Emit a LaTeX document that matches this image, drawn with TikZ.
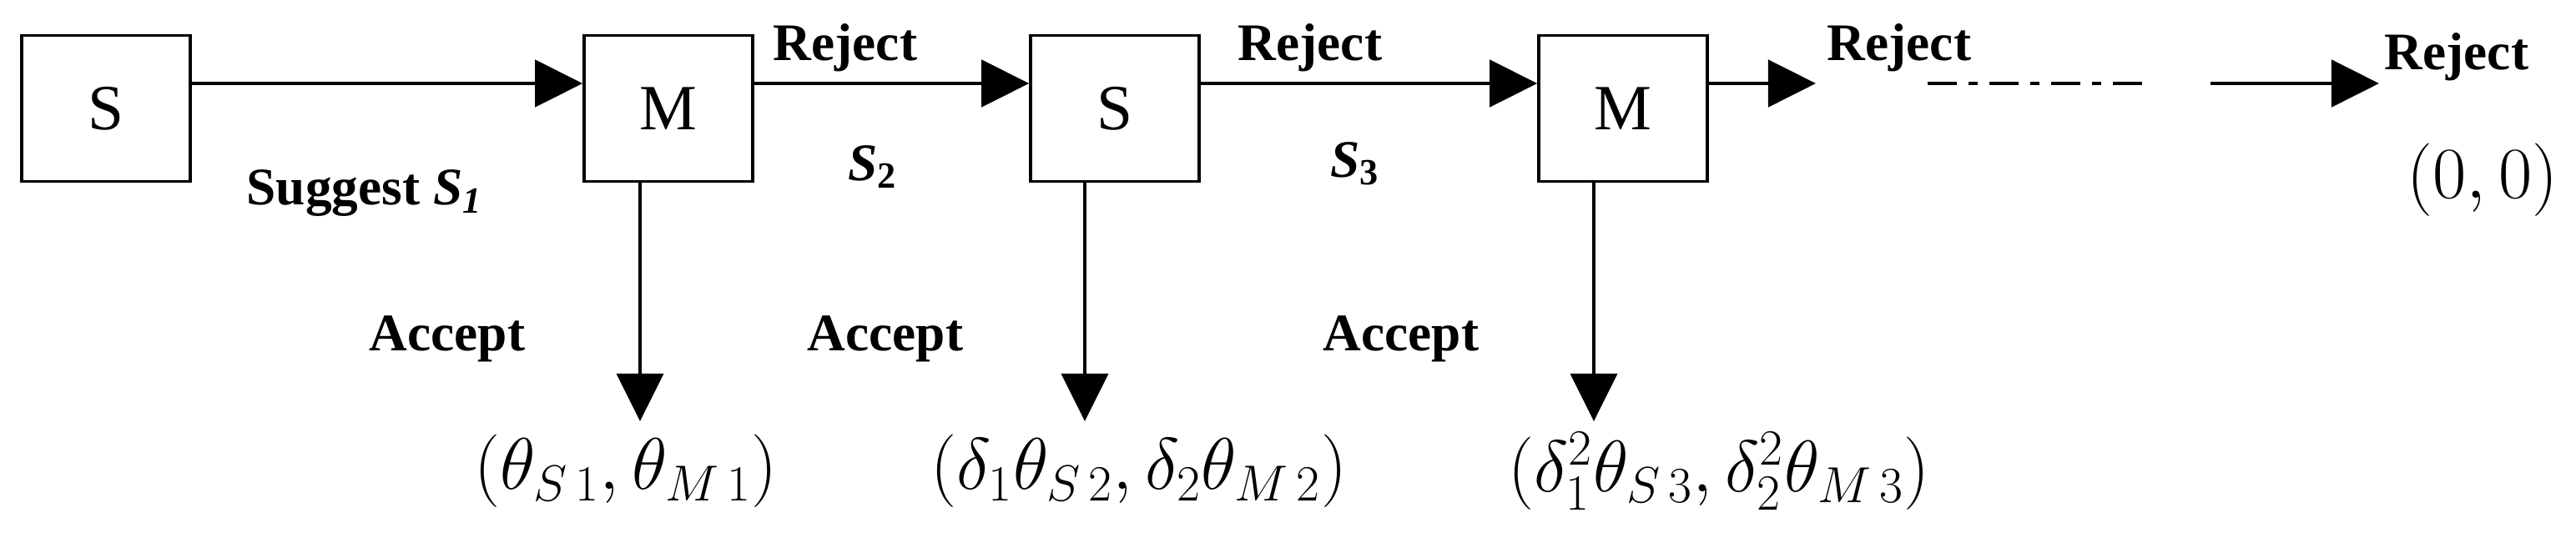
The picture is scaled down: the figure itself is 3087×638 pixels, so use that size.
\documentclass[tikz,border=0pt]{standalone}
\usepackage{fontspec}
\setmainfont{Liberation Serif}
\usetikzlibrary{arrows.meta}
\begin{document}
\begin{tikzpicture}[x=0.01cm,y=-0.01cm,
  box/.style={draw,line width=1pt,minimum width=2.02cm,minimum height=1.75cm,inner sep=0,font=\fontsize{22}{24}\selectfont},
  lbl/.style={font=\bfseries\fontsize{18}{20}\selectfont,inner sep=0},
  frm/.style={font=\fontsize{23}{25}\selectfont,inner sep=0},
  tip/.style={-{Triangle[length=0.57cm,width=0.56cm]}},
  harr/.style={tip,line width=1.4pt},
  varr/.style={tip,line width=0.9pt}]
\useasboundingbox (0,0) rectangle (3087,638);
\node[box] (s1) at (127,130) {S};
\node[box] (m1) at (801,130) {M};
\node[box] (s2) at (1336,130) {S};
\node[box] (m3) at (1945,130) {M};
\coordinate (r3) at (2176,100);
\coordinate (d1) at (2310,100);
\coordinate (d2) at (2571,100);
\coordinate (f1) at (2649,100);
\coordinate (f2) at (2851,100);
\draw[harr] (s1.east|-0,100) -- (m1.west|-0,100);
\draw[harr] (m1.east|-0,100) -- (s2.west|-0,100);
\draw[harr] (s2.east|-0,100) -- (m3.west|-0,100);
\draw[harr] (m3.east|-0,100) -- (r3);
\draw[line width=1.4pt,dash pattern=on 10pt off 4pt on 3pt off 4pt] (d1) -- (d2);
\draw[harr] (f1) -- (f2);
\node[frm] (o1) at (750,565) {$\Bigl(\theta_{S\,1},\theta_{M\,1}\Bigr)$};
\node[frm] (o2) at (1365,565) {$\Bigl(\delta_1\theta_{S\,2},\delta_2\theta_{M\,2}\Bigr)$};
\node[frm] (o3) at (2060,565) {$\Bigl(\delta_1^2\theta_{S\,3},\delta_2^2\theta_{M\,3}\Bigr)$};
\node[frm] (o0) at (2975,216) {$\bigl(0,0\bigr)$};
\draw[varr] (m1.south-|767,0) -- (767,505);
\draw[varr] (s2.south-|1300,0) -- (1300,505);
\draw[varr] (m3.south-|1910,0) -- (1910,505);
\node[lbl] (rj1) at (1013,57) {Reject};
\node[lbl] (rj2) at (1570,57) {Reject};
\node[lbl] (rj3) at (2276,57) {Reject};
\node[lbl] (rj4) at (2944,68) {Reject};
\node[lbl] (sg) at (437,232) {Suggest \textit{S\textsubscript{1}}};
\node[lbl] (ss2) at (1046,200) {\textit{S}\textsubscript{2}};
\node[lbl] (ss3) at (1624,196) {\textit{S}\textsubscript{3}};
\node[lbl] (a1) at (536,406) {Accept};
\node[lbl] (a2) at (1061,406) {Accept};
\node[lbl] (a3) at (1679,406) {Accept};
\end{tikzpicture}
\end{document}
